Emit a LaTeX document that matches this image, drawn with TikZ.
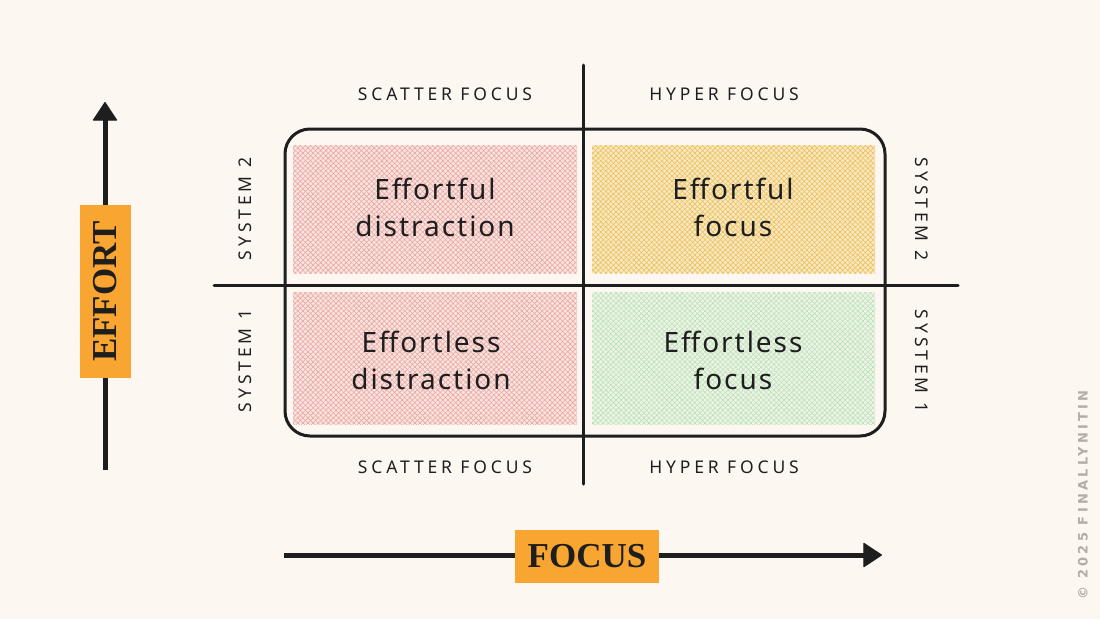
\documentclass[tikz,border=0pt]{standalone}
\usepackage{fontspec}
\setmainfont{Noto Sans}
\newfontfamily\quadfont[LetterSpace=7]{Noto Sans}
\newfontfamily\sidefont[LetterSpace=22]{Noto Sans}
\newfontfamily\titlefont{Liberation Serif}
\newfontfamily\markfont[LetterSpace=25]{DejaVu Sans}
\usetikzlibrary{arrows.meta,patterns.meta}
\definecolor{bg}{HTML}{FCF7F1}
\definecolor{ink}{HTML}{1E1E1E}
\definecolor{axisorange}{HTML}{F9A532}
\definecolor{pinkhatch}{HTML}{EBA3A0}
\definecolor{pinktint}{HTML}{F8E4DF}
\definecolor{yellowhatch}{HTML}{EDBE55}
\definecolor{yellowtint}{HTML}{F8E8C2}
\definecolor{greenhatch}{HTML}{B9E0B6}
\definecolor{greentint}{HTML}{EDF4E6}
\definecolor{markgray}{HTML}{B3ADA8}
\begin{document}
\begin{tikzpicture}[x=1pt,y=-1pt,
  gridline/.style={line width=3pt,draw=ink,line cap=round},
  frame/.style={line width=3pt,draw=ink,rounded corners=25pt},
  axisarrow/.style={line width=5pt,draw=ink,-{Triangle[width=25pt,length=19pt,line width=1pt,round]}},
  quadtext/.style={font=\quadfont\fontsize{28}{37}\selectfont,align=center,text=ink},
  sidetext/.style={font=\sidefont\fontsize{17.5}{20}\selectfont,text=ink},
  axislabel/.style={fill=axisorange,font=\titlefont\bfseries\fontsize{35}{40}\selectfont,text=ink,inner sep=0pt},
  hatchA/.style={pattern={Lines[angle=45,distance=3.6pt,line width=0.55pt]},pattern color=#1},
  hatchB/.style={pattern={Lines[angle=-45,distance=3.6pt,line width=0.55pt]},pattern color=#1},
]
\fill[bg] (0,0) rectangle (1100,619);
\useasboundingbox (0,0) rectangle (1100,619);

% quadrant fills
\foreach \xa/\ya/\xb/\yb/\tint/\hatch in {293/145/577/273/pinktint/pinkhatch, 592/145/875/273/yellowtint/yellowhatch, 293/292/577/424/pinktint/pinkhatch, 592/292/875/424/greentint/greenhatch}{
  \fill[\tint] (\xa,\ya) rectangle (\xb,\yb);
  \fill[hatchA=\hatch] (\xa,\ya) rectangle (\xb,\yb);
  \fill[hatchB=\hatch] (\xa,\ya) rectangle (\xb,\yb);
}

% frame and grid
\draw[frame] (285,129) rectangle (885,436);
\coordinate (vtop) at (583,65);
\coordinate (vbot) at (583,484);
\coordinate (hleft) at (214,285);
\coordinate (hright) at (958,285);
\draw[gridline] (vtop) -- (vbot);
\draw[gridline] (hleft) -- (hright);

% quadrant labels
\node[quadtext] (q1) at (435,207) {Effortful\\distraction};
\node[quadtext] (q2) at (733,207) {Effortful\\focus};
\node[quadtext] (q3) at (431,360) {Effortless\\distraction};
\node[quadtext] (q4) at (733,360) {Effortless\\focus};

% side labels
\node[sidetext] (t1) at (445,94) {SCATTER FOCUS};
\node[sidetext] (t2) at (724,94) {HYPER FOCUS};
\node[sidetext] (b1) at (445,467) {SCATTER FOCUS};
\node[sidetext] (b2) at (724,467) {HYPER FOCUS};
\node[sidetext,rotate=90] (l2) at (245,209) {SYSTEM 2};
\node[sidetext,rotate=90] (l1) at (245,361) {SYSTEM 1};
\node[sidetext,rotate=-90] (r2) at (922,209) {SYSTEM 2};
\node[sidetext,rotate=-90] (r1) at (922,361) {SYSTEM 1};

% axes
\coordinate (ey0) at (105,470);
\coordinate (ey1) at (105,102);
\coordinate (fx0) at (284,555);
\coordinate (fx1) at (882,555);
\draw[axisarrow] (ey0) -- (ey1);
\draw[axisarrow] (fx0) -- (fx1);
\node[axislabel,rotate=90,minimum width=173pt,minimum height=51pt] (effort) at (105.5,291.5) {EFFORT};
\node[axislabel,minimum width=144pt,minimum height=53pt] (focus) at (587,556.5) {FOCUS};

% watermark
\node[rotate=90,text=markgray,font=\markfont\bfseries\fontsize{13}{15}\selectfont] (mark) at (1083,495) {© 2025 FINALLYNITIN};
\end{tikzpicture}
\end{document}
